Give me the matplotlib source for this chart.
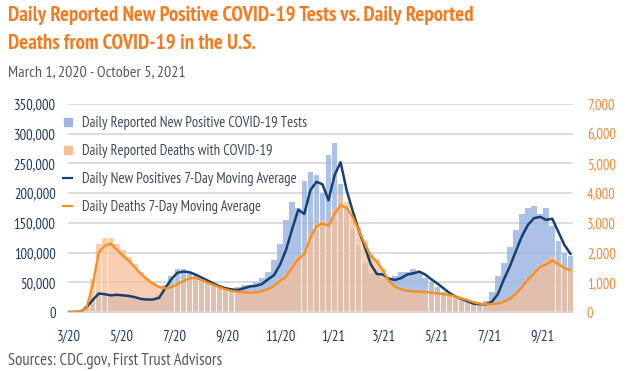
import numpy as np
import pandas as pd
import matplotlib
matplotlib.use('Agg')
import matplotlib.pyplot as plt
from matplotlib.lines import Line2D
from matplotlib.ticker import FuncFormatter

# Weekly readings, starting Mar 1, 2020
week_start = pd.date_range('2020-03-01', periods=84, freq='7D')

# daily new positive tests (bars) and 7-day average, in cases
pos_bars = np.array([0, 0.2, 1, 10, 25, 34, 32, 31, 30, 29, 27, 25, 23, 22,
                     22, 28, 45, 60, 72, 72, 68, 63, 57, 50, 45, 42, 40, 38,
                     42, 45, 46, 50, 58, 68, 88, 115, 155, 185, 175, 220, 235, 230,
                     200, 265, 285, 215, 178, 140, 112, 82, 66, 66, 58, 57, 60, 67,
                     68, 72, 66, 57, 50, 42, 33, 27, 22, 19, 15, 14, 14, 19,
                     34, 60, 82, 110, 138, 165, 175, 178, 165, 175, 145, 120, 100, 95]) * 1000
pos_avg = np.array([0, 0.1, 0.5, 8, 20, 31, 30, 28, 29, 28, 27, 25, 22, 21,
                    21, 24, 40, 55, 66, 68, 67, 63, 58, 53, 48, 43, 40, 38,
                    37, 40, 43, 44, 47, 55, 62, 80, 105, 140, 172, 165, 205, 219,
                    215, 188, 230, 252, 205, 170, 138, 110, 80, 64, 63, 56, 54, 57,
                    63, 65, 68, 63, 55, 48, 40, 32, 26, 22, 18, 14, 13, 13,
                    17, 30, 55, 77, 103, 128, 147, 158, 160, 155, 157, 135, 113, 98]) * 1000

# daily reported deaths (bars) and 7-day average
death_bars = np.array([0, 0, 10, 200, 1100, 2300, 2500, 2500, 2300, 2100, 1850, 1600, 1350, 1150,
                       1000, 880, 830, 860, 980, 1100, 1180, 1200, 1120, 1030, 950, 870, 790, 740,
                       710, 690, 680, 690, 730, 800, 920, 1100, 1280, 1600, 1900, 2100, 2650, 3000,
                       3100, 3000, 3500, 3950, 3700, 3300, 2850, 2400, 1950, 1800, 1450, 1100, 880, 800,
                       740, 720, 710, 690, 670, 650, 620, 590, 540, 480, 410, 340, 290, 270,
                       280, 300, 360, 480, 660, 880, 1150, 1380, 1600, 1750, 1900, 1700, 1550, 1450])
death_avg = np.array([0, 0, 5, 150, 900, 2000, 2230, 2300, 2100, 1900, 1720, 1500, 1280, 1100,
                      950, 840, 800, 830, 930, 1050, 1130, 1150, 1080, 990, 910, 830, 760, 710,
                      685, 665, 650, 660, 700, 770, 880, 1050, 1200, 1500, 1780, 1950, 2500, 2880,
                      2980, 2900, 3300, 3600, 3500, 3200, 2760, 2310, 1880, 1700, 1400, 1050, 850, 770,
                      710, 695, 685, 670, 650, 628, 600, 575, 520, 460, 400, 330, 280, 265,
                      270, 285, 345, 450, 620, 840, 1100, 1300, 1520, 1600, 1740, 1610, 1480, 1410])

tick_dates = pd.date_range('2020-03-01', '2021-09-01', freq='2MS')
tick_labels = ['3/20', '5/20', '7/20', '9/20', '11/20', '1/21', '3/21', '5/21', '7/21', '9/21']

ORANGE = '#F47B20'
NAVY = '#17406D'
BLUE_BAR = '#9DB6E3'
PEACH_BAR = '#F5BE98'
LINE_ORANGE = '#F7901E'
GRAY_TXT = '#595959'

plt.rcParams['font.family'] = ['PT Sans Narrow', 'DejaVu Sans']

fig = plt.figure(figsize=(6.27, 3.71), dpi=100)
ax = fig.add_axes([68 / 627, 59 / 371, 505 / 627, 208 / 371])
ax2 = ax.twinx()

ax.bar(week_start, pos_bars, width=6.4, color=BLUE_BAR, alpha=0.85, linewidth=0, zorder=2)
ax2.bar(week_start, death_bars, width=6.4, color=PEACH_BAR, alpha=0.75, linewidth=0, zorder=1)
ax2.plot(week_start, pos_avg, color=NAVY, lw=1.8, transform=ax.transData, zorder=3)
ax2.plot(week_start, death_avg, color=LINE_ORANGE, lw=1.7, zorder=4)

ax.set_ylim(0, 350000)
ax2.set_ylim(0, 7000)
ax.set_xlim(pd.Timestamp('2020-02-29 12:00'), pd.Timestamp('2021-10-06'))
ax.set_yticks(np.arange(0, 350001, 50000))
ax2.set_yticks(np.arange(0, 7001, 1000))
ax.yaxis.set_major_formatter(FuncFormatter(lambda v, p: f'{int(v):,}'))
ax2.yaxis.set_major_formatter(FuncFormatter(lambda v, p: f'{int(v):,}'))
ax.set_xticks(tick_dates)
ax.set_xticklabels(tick_labels)

ax.grid(axis='y', color='#D9D9D9', lw=1.3, zorder=0)
ax.set_axisbelow(True)
for a in (ax, ax2):
    for s in ('top', 'left', 'right'):
        a.spines[s].set_visible(False)
    a.spines['bottom'].set_color('#D9D9D9')
    a.spines['bottom'].set_linewidth(1.3)
ax.tick_params(axis='y', length=0, pad=9, labelsize=10.5, labelcolor='#1F3B66')
ax2.tick_params(axis='y', length=0, pad=10, labelsize=10.5, labelcolor='#F4883A')
ax.tick_params(axis='x', length=0, pad=13, labelsize=10.5, labelcolor='#1F3B66')

handles = [
    Line2D([], [], marker='s', ls='none', color=BLUE_BAR, markersize=5.5),
    Line2D([], [], marker='s', ls='none', color=PEACH_BAR, markersize=5.5),
    Line2D([], [], color=NAVY, lw=1.6),
    Line2D([], [], color=LINE_ORANGE, lw=1.6),
]
labels = ['Daily Reported New Positive COVID-19 Tests',
          'Daily Reported Deaths with COVID-19',
          'Daily New Positives 7-Day Moving Average',
          'Daily Deaths 7-Day Moving Average']
leg = ax2.legend(handles, labels, loc='upper left', bbox_to_anchor=(-0.009, 0.94),
                 frameon=False, fontsize=10.5, handlelength=0.6, handletextpad=0.7,
                 labelspacing=0.95, borderaxespad=0, borderpad=0)
for t in leg.get_texts():
    t.set_color('#404A5C')

fig.text(0.013, 1 - 21 / 371, 'Daily Reported New Positive COVID-19 Tests vs. Daily Reported',
         ha='left', va='baseline', color=ORANGE, fontsize=15, fontweight='bold')
fig.text(0.013, 1 - 49 / 371, 'Deaths from COVID-19 in the U.S.',
         ha='left', va='baseline', color=ORANGE, fontsize=15, fontweight='bold')
fig.text(0.013, 1 - 76 / 371, 'March 1, 2020 - October 5, 2021', ha='left', va='baseline',
         color=GRAY_TXT, fontsize=11.5)
fig.text(0.013, 1 - 365 / 371, 'Sources: CDC.gov, First Trust Advisors', ha='left', va='baseline',
         color=GRAY_TXT, fontsize=12)

fig.savefig('out.png', dpi=100)
